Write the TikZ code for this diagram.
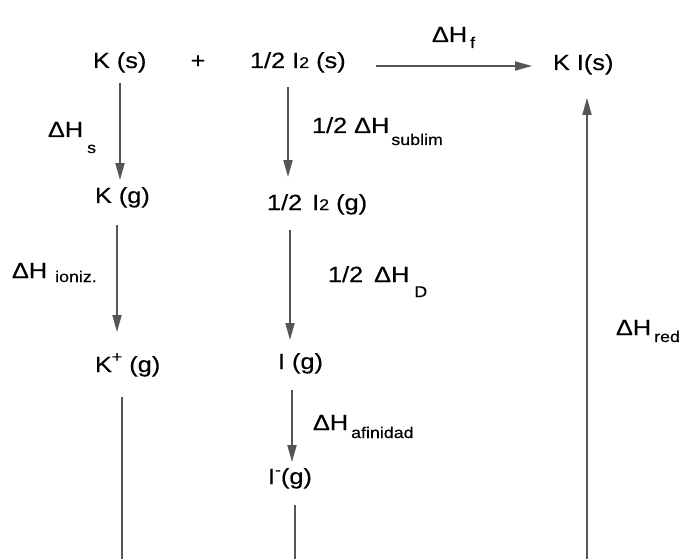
\documentclass[tikz,border=0pt]{standalone}
\usepackage{fontspec}
\setmainfont{Liberation Sans}[FakeStretch=1.15,FakeBold=0.4]
\usetikzlibrary{arrows.meta,calc}
\definecolor{linegray}{HTML}{555555}
\newcommand{\mainsz}{\fontsize{22}{26}\selectfont}
\newcommand{\subsz}{\fontsize{15.5}{18}\selectfont}
\newcommand{\sbx}[3]{\hspace{#1}\smash{\raisebox{-#2}{\subsz #3}}}
\newcommand{\spx}[2]{\smash{\raisebox{#1}{\subsz #2}}}
\begin{document}
\begin{tikzpicture}[x=1pt,y=-1pt,
  lbl/.style={anchor=base west,inner sep=0pt,outer sep=0pt,font=\mainsz},
  arr/.style={draw=linegray,line width=1.8pt,-{Triangle[length=17pt,width=9pt]}},
  ln/.style={draw=linegray,line width=1.8pt}]
\fill[white] (0,0) rectangle (683,559);
\useasboundingbox (0,0) rectangle (683,559);
% species
\node[lbl] (Ks)  at (93,68)  {K (s)};
\node[lbl,anchor=base] (plus) at (198,68) {+};
\node[lbl] (I2s) at (250,68) {1/2 I{\subsz 2} (s)};
\node[lbl] (KI)  at (553,70) {K I(s)};
\node[lbl] (Kg)  at (95,203) {K (g)};
\node[lbl] (I2g) at (267,210) {1/2\hspace{3pt} I{\subsz 2} (g)};
\node[lbl] (Kpg) at (95,372) {K\spx{10pt}{+} (g)};
\node[lbl] (Ig)  at (278,369) {I (g)};
\node[lbl] (Img) at (268,484) {I\spx{9pt}{-}(g)};
% enthalpy labels
\node[lbl] (dHf)  at (432,42)  {ΔH\sbx{3pt}{6pt}{f}};
\node[lbl] (dHs)  at (48,137)  {ΔH\sbx{4pt}{16pt}{s}};
\node[lbl] (dHsub) at (312,133) {1/2 ΔH\sbx{2pt}{12pt}{sublim}};
\node[lbl] (dHion) at (12,278) {ΔH\sbx{8pt}{4pt}{ioniz.}};
\node[lbl] (dHD)  at (328,282) {1/2\hspace{4pt} ΔH\sbx{5pt}{15pt}{D}};
\node[lbl] (dHaf) at (313,430) {ΔH\sbx{3pt}{8pt}{afinidad}};
\node[lbl] (dHred) at (616,335) {ΔH\sbx{3pt}{7pt}{red}};
% connectors
\coordinate (a1) at ($(Ks.south west)+(27,10.3)$);
\draw[arr,shorten >=7pt] (a1) -- (a1 |- Kg.north);
\coordinate (a2) at ($(I2s.south west)+(38,14.3)$);
\draw[arr,shorten >=17pt] (a2) -- (a2 |- I2g.north);
\coordinate (a3) at ($(Kg.south west)+(22,17.3)$);
\draw[arr,shorten >=24pt] (a3) -- (a3 |- Kpg.north);
\coordinate (a4) at ($(I2g.south west)+(23,15.3)$);
\draw[arr,shorten >=13pt] (a4) -- (a4 |- Ig.north);
\coordinate (a5) at ($(Ig.south west)+(14,16.3)$);
\draw[arr,shorten >=6pt] (a5) -- (a5 |- Img.north);
\coordinate (a6) at ($(I2s.base east)+(30,-2)$);
\draw[arr,shorten >=21pt] (a6) -- (a6 -| KI.west);
\coordinate (kbot) at (587,559);
\draw[arr,shorten >=23.3pt] (kbot) -- (kbot |- KI.south);
\coordinate (a7) at ($(Kpg.south west)+(27,20.3)$);
\draw[ln] (a7) -- (a7 |- kbot);
\coordinate (a8) at ($(Img.south west)+(27,16.3)$);
\draw[ln] (a8) -- (a8 |- kbot);
\end{tikzpicture}
\end{document}
